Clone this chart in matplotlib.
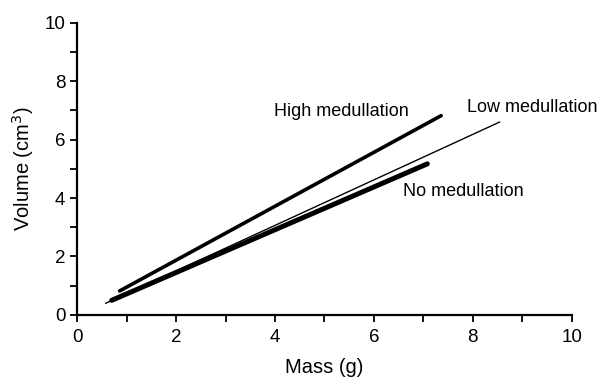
import matplotlib.pyplot as plt
from matplotlib.ticker import MultipleLocator

plt.rcParams['font.family'] = ['Liberation Sans', 'DejaVu Sans']

# Regression lines: (mass start, mass end), (volume start, volume end)
high_mass = [0.86, 7.36]
high_volume = [0.82, 6.82]
low_mass = [0.58, 8.54]
low_volume = [0.40, 6.60]
none_mass = [0.70, 7.08]
none_volume = [0.50, 5.17]

labels = ["High medullation", "Low medullation", "No medullation"]
label_pos = [(3.98, 6.95), (7.88, 7.09), (6.59, 4.21)]

fig = plt.figure(figsize=(6.07, 3.85), dpi=100)
ax = fig.add_axes([0.127, 0.182, 0.815, 0.759])

ax.plot(high_mass, high_volume, color='black', lw=2.6, solid_capstyle='round')
ax.plot(low_mass, low_volume, color='black', lw=1.0)
ax.plot(none_mass, none_volume, color='black', lw=3.6, solid_capstyle='round')

for text, (x, y) in zip(labels, label_pos):
    ax.text(x, y, text, fontsize=13, va='center', ha='left')

ax.set_xlim(0, 10)
ax.set_ylim(0, 10)
ax.xaxis.set_major_locator(MultipleLocator(2))
ax.xaxis.set_minor_locator(MultipleLocator(1))
ax.yaxis.set_major_locator(MultipleLocator(2))
ax.yaxis.set_minor_locator(MultipleLocator(1))
ax.tick_params(which='both', direction='out', length=5, width=1.3, labelsize=13.5)
ax.tick_params(axis='x', pad=5)

for side in ['top', 'right']:
    ax.spines[side].set_visible(False)
for side in ['left', 'bottom']:
    ax.spines[side].set_linewidth(1.6)

ax.set_xlabel('Mass (g)', fontsize=14.5, labelpad=9)
ax.set_ylabel('Volume (cm$^3$)', fontsize=14.5, labelpad=6)

plt.savefig('out.png', dpi=100)
